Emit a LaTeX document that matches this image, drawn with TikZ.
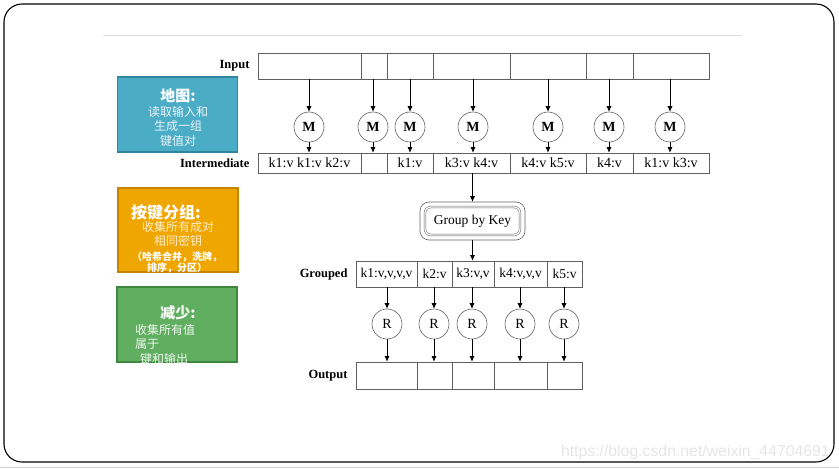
\documentclass[tikz,border=0pt]{standalone}
\usepackage{fontspec}
\setmainfont{Liberation Serif}
\newfontfamily\cjk{Noto Sans CJK SC}
\newfontfamily\urlfont{Liberation Sans}
\usetikzlibrary{arrows.meta,positioning}
\definecolor{mapblue}{RGB}{75,172,198}
\definecolor{mapedge}{RGB}{49,133,156}
\definecolor{grporange}{RGB}{240,166,0}
\definecolor{grpedge}{RGB}{196,132,0}
\definecolor{redgreen}{RGB}{96,174,96}
\definecolor{rededge}{RGB}{62,136,62}
\definecolor{cellline}{RGB}{95,95,95}
\tikzset{
  arr/.style={-{Latex[length=5.5pt,width=5pt]},line width=0.6pt},
  cell/.style={draw=cellline,line width=0.7pt,inner sep=0pt,font=\fontsize{14}{14}\selectfont},
  rowlabel/.style={font=\fontsize{12.5}{12.5}\selectfont\bfseries,inner sep=0pt},
  worker/.style={circle,draw=cellline,line width=0.6pt,minimum size=30,inner sep=0pt,font=\fontsize{14}{14}\selectfont},
  sidebox/.style={draw=#1,line width=1.6pt,minimum width=120,minimum height=75,inner sep=0pt},
  headtxt/.style={text=white,font=\cjk\fontsize{15}{15}\selectfont\bfseries,inner sep=0pt},
  bodytxt/.style={font=\cjk\fontsize{12}{14.5}\selectfont,inner sep=0pt,align=center}
}
\begin{document}
\begin{tikzpicture}[x=1pt,y=-1pt]
  \useasboundingbox (0,0) rectangle (839,469);
  % frame of the slide
  \draw[line width=1.1pt,rounded corners=18pt] (4,4) rectangle (834,462);
  \draw[gray!40] (0,467) -- (839,467);
  \draw[gray!25,line width=0.8pt] (103,35) -- (742,35);

  % input and intermediate rows
  \foreach \a/\b [count=\i] in {258/361,361/387,387/433,433/510,510/586,586/633,633/709}
    \node[cell,minimum width={(\b-\a)*1pt},minimum height=26] (in\i) at ({(\a+\b)/2},66) {};
  \foreach \a/\b/\t [count=\i] in {258/361/{k1:v k1:v k2:v},361/387/{},387/433/{k1:v},
      433/510/{k3:v k4:v},510/586/{k4:v k5:v},586/633/{k4:v},633/709/{k1:v k3:v}}
    \node[cell,minimum width={(\b-\a)*1pt},minimum height=20] (im\i) at ({(\a+\b)/2},163) {\t};
  \node[rowlabel,left=8pt of in1] {Input};
  \node[rowlabel,left=8pt of im1] {Intermediate};

  % map workers
  \foreach \x [count=\i] in {309,373,410,473,548,609,670} {
    \node[worker,font=\fontsize{14}{14}\selectfont\bfseries] (m\i) at (\x,127) {M};
    \draw[arr] (m\i |- in1.south) -- (m\i);
    \draw[arr] (m\i) -- (m\i |- im1.north);
  }

  % group by key
  \node[draw=cellline,line width=0.6pt,rounded corners=9pt,minimum width=105,minimum height=38] (gbk) at (472.5,221) {};
  \node[draw=cellline,line width=0.5pt,double,double distance=1.3pt,rounded corners=6pt,
    minimum width=95,minimum height=28,font=\fontsize{13.5}{13.5}\selectfont] (gbktxt) at (gbk) {Group by Key};
  \draw[arr] (gbk.north |- im4.south) -- (gbk.north);

  % grouped and output rows
  \foreach \a/\b/\t [count=\i] in {356/417/{k1:v,v,v,v},417/452/{k2:v},452/494/{k3:v,v},
      494/547/{k4:v,v,v},547/582/{k5:v}}
    \node[cell,minimum width={(\b-\a)*1pt},minimum height=26,font=\fontsize{13.5}{13.5}\selectfont] (gr\i) at ({(\a+\b)/2},274) {\t};
  \foreach \a/\b [count=\i] in {356/417,417/452,452/494,494/547,547/582}
    \node[cell,minimum width={(\b-\a)*1pt},minimum height=27] (out\i) at ({(\a+\b)/2},375.5) {};
  \node[rowlabel,left=8pt of gr1] {Grouped};
  \node[rowlabel,left=8pt of out1] {Output};
  \draw[arr] (gbk.south) -- (gbk.south |- gr1.north);

  % reduce workers
  \foreach \x [count=\i] in {387,434,472,520,564} {
    \node[worker] (r\i) at (\x,324) {R};
    \draw[arr] (r\i |- gr1.south) -- (r\i);
    \draw[arr] (r\i) -- (r\i |- out1.north);
  }

  % side notes
  \node[sidebox=mapedge,fill=mapblue] (mapbox) at (177.5,114.5) {};
  \node[headtxt] at (178,96) {地图:};
  \node[bodytxt,text=white!88!mapblue,anchor=north] at (178,106) {读取输入和\\生成一组\\键值对};

  \node[sidebox=grpedge,fill=grporange,minimum height=84] (grpbox) at (178,230) {};
  \node[headtxt,font=\cjk\fontsize{16}{16}\selectfont\bfseries] at (166,212) {按键分组:};
  \node[bodytxt,text=white!80!grporange,anchor=north] at (178,221) {收集所有成对\\相同密钥};
  \node[bodytxt,text=white,anchor=north,font=\cjk\fontsize{10}{11.5}\selectfont\bfseries] at (177,251.5) {（哈希合并，洗牌，\\排序，分区）};

  \node[sidebox=rededge,fill=redgreen] (redbox) at (177,324.5) {};
  \node[headtxt] at (178,313) {减少:};
  \node[bodytxt,text=white!90!redgreen,anchor=north west,align=left] at (135,324) {收集所有值\\属于\\\hspace{5pt}键和输出};

  % watermark
  \node[font=\urlfont\fontsize{15.8}{15.8}\selectfont,text=gray!20,anchor=east,inner sep=0pt] at (830,452) {https://blog.csdn.net/weixin\_44704691};
\end{tikzpicture}
\end{document}
